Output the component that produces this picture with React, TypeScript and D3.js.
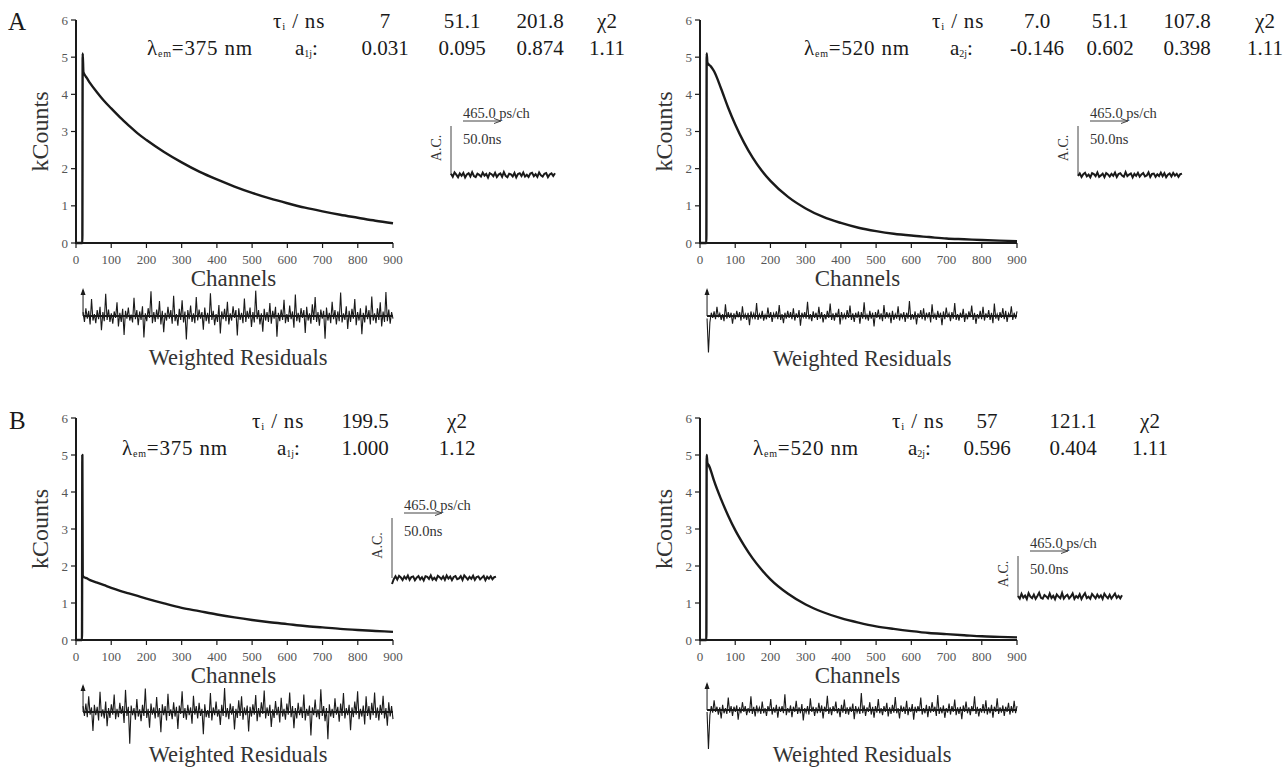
import React from 'react';
import * as d3 from 'd3';

// ---------- DATA ----------
const decayChannels = [0, 17, 18, 19, 21, 25, 30, 40, 60, 80, 100, 125, 150, 175, 200, 250, 300, 350, 400, 450, 500, 550, 600, 650, 700, 750, 800, 850, 900];
const decayA375 = [0, 0, 0, 5.1, 4.6, 4.52, 4.45, 4.3, 4.05, 3.82, 3.62, 3.38, 3.16, 2.95, 2.77, 2.45, 2.17, 1.92, 1.71, 1.52, 1.35, 1.2, 1.07, 0.95, 0.85, 0.76, 0.68, 0.6, 0.53];
const decayA520 = [0, 0, 0, 5.1, 4.85, 4.8, 4.76, 4.62, 4.15, 3.64, 3.19, 2.7, 2.29, 1.95, 1.67, 1.24, 0.93, 0.7, 0.54, 0.41, 0.32, 0.25, 0.2, 0.16, 0.12, 0.1, 0.08, 0.065, 0.05];
const decayB375 = [0, 0, 5.0, 1.75, 1.71, 1.69, 1.67, 1.62, 1.55, 1.48, 1.41, 1.33, 1.26, 1.19, 1.12, 0.99, 0.87, 0.78, 0.69, 0.61, 0.54, 0.48, 0.43, 0.38, 0.34, 0.3, 0.27, 0.245, 0.22];
const decayB520 = [0, 0, 0, 5.0, 4.78, 4.72, 4.6, 4.3, 3.8, 3.36, 2.97, 2.56, 2.2, 1.9, 1.64, 1.25, 0.96, 0.75, 0.59, 0.47, 0.37, 0.3, 0.24, 0.19, 0.16, 0.13, 0.1, 0.085, 0.07];

const xTickValues = [0, 100, 200, 300, 400, 500, 600, 700, 800, 900];
const yTickValues = [0, 1, 2, 3, 4, 5, 6];

const resA375 = [
  0.6, -0.9, 1.2, -0.4, 0.8, -1.3, 2.6, -0.7, 0.3, -1.1, 0.9, -0.5, 1.4, -2.2, 0.6, -0.8, 3.4, -0.6, 1.0, -0.9,
  0.4, -1.2, 0.7, -0.3, 2.1, -1.6, 0.5, -0.9, 1.1, -2.9, 0.8, -0.4, 1.3, -0.7, 0.2, -1.0, 2.8, -0.5, 0.9, -1.4,
  0.7, -0.6, 1.5, -3.3, 0.4, -0.8, 1.2, -0.3, 3.8, -1.1, 0.6, -0.9, 1.0, -0.5, 2.3, -1.3, 0.8, -2.5, 0.5, -0.7,
  1.4, -0.4, 0.9, -1.2, 3.1, -0.8, 0.3, -1.5, 1.1, -0.6, 2.4, -1.0, 0.7, -3.6, 0.9, -0.5, 1.6, -0.9, 0.4, -1.1,
  2.9, -0.7, 1.0, -0.4, 0.6, -2.1, 1.3, -0.8, 0.5, -1.2, 3.5, -0.6, 0.8, -1.4, 0.3, -0.9, 1.7, -2.7, 0.7, -0.5,
  1.1, -0.8, 2.2, -1.3, 0.4, -0.7, 1.5, -0.3, 0.9, -3.0, 1.2, -0.6, 0.5, -1.1, 2.7, -0.9, 0.8, -0.4, 1.3, -1.7,
  0.6, -1.0, 3.9, -0.5, 0.9, -1.3, 0.4, -2.4, 1.1, -0.7, 0.6, -0.9, 2.0, -1.2, 0.8, -0.4, 1.4, -3.2, 0.5, -0.8,
  1.0, -0.6, 2.5, -1.1, 0.3, -0.9, 1.6, -0.5, 0.7, -1.8, 3.3, -0.8, 0.5, -1.0, 1.2, -0.3, 0.9, -2.6, 1.4, -0.7,
  0.4, -1.2, 1.8, -0.6, 2.9, -0.9, 0.6, -1.5, 1.0, -0.4, 0.8, -3.5, 1.3, -0.7, 0.5, -1.1, 2.2, -0.5, 0.9, -1.3,
  0.7, -0.8, 3.6, -1.0, 0.4, -0.6, 1.5, -2.0, 0.8, -0.9, 1.1, -0.4, 2.6, -1.4, 0.6, -0.7, 1.2, -2.8, 0.5, -1.0,
  1.6, -0.5, 0.9, -1.3, 3.0, -0.7, 0.4, -1.1, 1.2, -0.6, 2.1, -1.6, 0.7, -0.9, 3.7, -0.8, 1.0, -1.2, 0.6, -0.4,
];
const resA520 = [
  -0.4, -5.6, -1.0, 0.5, -0.3, 0.7, -0.5, 1.4, -0.2, 0.4, -0.6, 0.3, -0.8, 1.8, -0.4, 0.6, -0.3, 0.5, -1.2, 0.4,
  -0.5, 0.8, -0.2, 0.6, -0.7, 1.5, -0.4, 0.3, -0.6, 0.5, -1.4, 0.7, -0.3, 0.4, -0.5, 2.0, -0.6, 0.3, -0.4, 0.8,
  -0.7, 0.2, -0.5, 1.3, -0.3, 0.6, -0.9, 0.4, -0.2, 0.7, -0.5, 1.7, -0.6, 0.3, -1.1, 0.5, -0.4, 0.8, -0.3, 0.6,
  -0.5, 1.2, -0.7, 0.4, -0.3, 0.9, -1.5, 0.5, -0.2, 0.6, -0.4, 2.2, -0.5, 0.3, -0.8, 0.7, -0.3, 0.5, -0.6, 1.4,
  -0.4, 0.6, -1.0, 0.3, -0.5, 0.8, -0.3, 1.9, -0.6, 0.4, -0.7, 0.5, -0.2, 1.1, -1.3, 0.6, -0.4, 0.3, -0.5, 0.9,
  -0.3, 1.6, -0.6, 0.4, -0.9, 0.5, -0.3, 0.7, -1.2, 0.6, -0.4, 2.1, -0.5, 0.2, -0.7, 0.8, -0.4, 0.5, -1.6, 0.6,
  -0.3, 1.0, -0.5, 0.4, -0.8, 1.7, -0.4, 0.6, -0.2, 0.5, -1.1, 0.8, -0.6, 0.3, -0.4, 1.5, -0.7, 0.4, -0.3, 0.6,
  -0.9, 0.5, -0.4, 2.3, -0.6, 0.3, -0.5, 0.7, -1.3, 0.4, -0.3, 0.9, -0.5, 1.2, -0.7, 0.5, -0.2, 0.6, -1.0, 1.8,
  -0.4, 0.3, -0.6, 0.8, -0.3, 0.5, -1.4, 0.7, -0.5, 1.3, -0.2, 0.4, -0.8, 0.6, -0.4, 2.0, -0.6, 0.3, -0.7, 0.5,
  -0.3, 1.1, -0.9, 0.4, -0.5, 0.7, -0.2, 1.6, -0.6, 0.5, -1.2, 0.3, -0.4, 0.8, -0.5, 1.4, -0.7, 0.4, -0.3, 0.9,
  -0.6, 0.5, -1.1, 1.9, -0.4, 0.3, -0.7, 0.6, -0.3, 1.2, -0.5, 0.8, -0.9, 0.4, -0.2, 1.5, -0.6, 0.5, -0.4, 0.7,
];
const resB375 = [
  0.9, -0.6, 1.3, -0.8, 2.4, -0.4, 0.7, -2.9, 1.1, -0.5, 0.8, -1.3, 3.1, -0.7, 0.4, -1.0, 1.6, -2.2, 0.6, -0.9,
  1.2, -0.4, 2.7, -1.1, 0.5, -0.8, 1.4, -0.3, 0.9, -1.7, 3.4, -0.6, 0.8, -4.9, 1.0, -0.5, 0.6, -1.2, 2.0, -0.7,
  0.4, -1.4, 1.1, -0.6, 3.6, -0.9, 0.5, -2.4, 1.3, -0.4, 0.7, -1.0, 2.3, -0.8, 0.6, -3.1, 1.2, -0.5, 0.9, -1.3,
  2.8, -0.6, 0.4, -1.1, 1.5, -0.7, 0.8, -2.6, 1.0, -0.3, 3.2, -0.9, 0.6, -1.2, 1.1, -0.5, 0.7, -1.8, 2.5, -0.4,
  0.9, -1.0, 1.4, -0.6, 0.5, -3.4, 1.2, -0.8, 0.3, -0.9, 2.9, -1.3, 0.7, -0.5, 1.6, -0.7, 0.4, -2.0, 1.1, -0.6,
  3.7, -0.8, 0.6, -1.1, 1.3, -0.4, 0.9, -2.7, 0.5, -0.9, 1.8, -0.6, 2.4, -1.2, 0.7, -0.5, 1.0, -3.0, 0.8, -0.7,
  1.2, -0.4, 2.6, -1.4, 0.6, -0.8, 1.5, -0.3, 3.3, -1.0, 0.7, -0.6, 1.1, -2.3, 0.4, -0.9, 1.7, -0.5, 0.8, -1.6,
  2.2, -0.7, 0.5, -1.2, 1.3, -0.4, 3.0, -0.8, 0.9, -2.5, 0.6, -1.0, 1.4, -0.5, 0.8, -0.9, 2.7, -1.3, 0.5, -0.6,
  1.0, -3.6, 0.7, -0.5, 1.9, -0.8, 0.4, -1.1, 3.5, -0.6, 0.9, -1.4, 0.6, -4.2, 1.2, -0.7, 0.5, -0.9, 2.1, -0.4,
  0.8, -1.5, 1.3, -0.6, 2.9, -1.0, 0.6, -0.5, 1.1, -2.8, 0.7, -0.8, 1.6, -0.4, 3.2, -1.1, 0.5, -0.7, 1.0, -1.9,
  2.4, -0.6, 0.9, -1.2, 1.4, -0.5, 3.0, -0.9, 0.7, -1.3, 1.1, -0.4, 2.5, -1.0, 0.6, -2.1, 1.5, -0.7, 0.9, -1.1,
];
const resB520 = [
  -0.3, -6.0, -0.8, 0.6, -0.4, 1.5, -0.3, 0.5, -0.7, 0.4, -1.3, 0.8, -0.5, 0.3, -0.6, 1.9, -0.4, 0.6, -0.9, 0.5,
  -0.3, 0.7, -1.5, 0.4, -0.5, 1.2, -0.3, 0.6, -0.8, 0.3, -0.4, 2.1, -0.6, 0.5, -1.0, 0.7, -0.3, 0.4, -0.6, 1.3,
  -0.5, 0.3, -0.9, 0.6, -0.2, 1.7, -0.7, 0.4, -0.4, 0.8, -1.2, 0.5, -0.3, 0.6, -0.5, 2.4, -0.8, 0.3, -0.4, 0.7,
  -1.1, 0.5, -0.3, 1.4, -0.6, 0.4, -0.5, 0.9, -1.6, 0.3, -0.4, 0.6, -0.7, 1.8, -0.3, 0.5, -0.9, 0.4, -0.5, 1.1,
  -0.4, 0.7, -1.3, 0.5, -0.3, 2.2, -0.6, 0.4, -0.8, 0.6, -0.2, 1.3, -0.5, 0.3, -1.1, 0.8, -0.4, 1.6, -0.6, 0.4,
  -0.7, 0.5, -0.3, 1.0, -1.4, 0.6, -0.4, 0.3, -0.6, 2.6, -0.5, 0.7, -0.9, 0.4, -0.3, 1.2, -0.7, 0.5, -1.2, 0.6,
  -0.4, 1.7, -0.5, 0.3, -0.8, 0.6, -0.3, 1.1, -1.0, 0.4, -0.6, 0.8, -0.4, 2.0, -0.5, 0.3, -1.3, 0.7, -0.3, 0.5,
  -0.6, 1.4, -0.8, 0.4, -0.3, 0.9, -1.5, 0.5, -0.4, 0.6, -0.2, 1.9, -0.7, 0.3, -0.5, 0.8, -1.1, 0.6, -0.4, 1.2,
  -0.3, 0.5, -0.9, 2.3, -0.6, 0.4, -0.5, 0.7, -1.2, 0.3, -0.4, 1.0, -0.7, 0.6, -0.3, 1.6, -0.8, 0.4, -0.6, 0.5,
  -1.4, 0.7, -0.3, 1.3, -0.5, 0.4, -0.8, 0.6, -0.2, 2.1, -0.6, 0.5, -1.0, 0.3, -0.4, 0.9, -0.5, 1.5, -0.7, 0.4,
  -0.5, 0.8, -1.2, 0.5, -0.3, 1.8, -0.6, 0.4, -0.4, 0.7, -0.9, 0.5, -0.3, 1.1, -0.7, 0.6, -0.4, 1.4, -0.5, 0.6,
];

const acA375 = [0.6, -0.9, 1.3, 0.2, -1.1, 0.8, -0.4, 1.0, -1.2, 0.3, 0.9, -0.7, 1.4, -0.5, -1.0, 0.7, 0.1, -0.8, 1.2, -0.3, 0.5, -1.3, 0.9, 0.4, -0.6, 1.1, -1.0, 0.2, 0.8, -0.9, 1.5, -0.4, -1.1, 0.6, 0.3, -0.7, 1.0, -1.2, 0.5, 0.9, -0.5, 1.2, -0.8, 0.1, -1.0, 0.7, 1.1, -0.6, 0.4, -0.9, 1.3, -0.2, -0.8, 0.6, 1.0, -1.1, 0.3, 0.8, -0.5, 0.9];
const acA520 = [-0.5, 0.8, -1.0, 0.4, 1.1, -0.7, 0.2, -1.2, 0.9, 0.5, -0.6, 1.3, -0.9, -0.2, 0.7, -1.1, 1.0, 0.3, -0.8, 0.6, -0.4, 1.2, -1.0, 0.5, 0.9, -0.3, -0.9, 1.4, -0.6, 0.2, 0.8, -1.2, 0.6, -0.4, 1.1, -0.8, 0.3, 1.0, -0.7, -0.2, 1.3, -1.0, 0.5, 0.7, -0.9, 0.4, -0.5, 1.2, -0.6, 0.9, -1.1, 0.2, 0.8, -0.7, 1.0, -0.3, 0.6, -0.9, 0.4, 0.7];
const acB375 = [-3.0, -0.6, 0.9, -0.8, 1.1, 0.3, -1.0, 0.7, -0.4, 1.2, -0.9, 0.5, 0.8, -1.1, 0.2, 1.0, -0.7, 0.4, -1.2, 0.9, 0.6, -0.5, 1.3, -0.8, 0.1, -1.0, 1.1, 0.4, -0.6, 0.8, -0.9, 1.2, -0.3, 0.7, -1.1, 0.5, 1.0, -0.6, -0.2, 0.9, -1.0, 1.3, 0.3, -0.8, 0.6, -0.4, 1.1, -0.9, 0.5, 0.8, -0.7, 0.2, 1.0, -1.1, 0.6, -0.3, 0.9, -0.6, 0.4, 0.7];
const acB520 = [0.4, -0.8, 1.6, -0.3, 0.7, -1.0, 1.9, 0.2, -0.6, 1.2, -0.9, 0.5, 2.1, -0.4, -0.8, 1.0, 0.3, -0.7, 1.7, -0.5, 0.6, -1.1, 1.3, 0.2, -0.6, 2.0, -0.8, 0.4, 1.1, -0.7, 0.3, 1.8, -0.9, 0.5, -0.4, 1.4, -1.0, 0.6, 1.9, -0.5, 0.2, -0.9, 1.5, 0.4, -0.7, 1.2, -0.3, 0.8, -1.0, 1.6, 0.3, -0.6, 1.1, -0.8, 0.5, 1.7, -0.4, 0.6, -0.7, 0.9];

const tauA375 = ['7', '51.1', '201.8'];
const ampA375 = ['0.031', '0.095', '0.874'];
const tauA520 = ['7.0', '51.1', '107.8'];
const ampA520 = ['-0.146', '0.602', '0.398'];
const tauB375 = ['199.5'];
const ampB375 = ['1.000'];
const tauB520 = ['57', '121.1'];
const ampB520 = ['0.596', '0.404'];
const chiValues = ['1.11', '1.11', '1.12', '1.11'];
const wavelengths = ['375', '520', '375', '520'];
const ampSubs = ['1j', '2j', '1j', '2j'];

// ---------- LAYOUT ----------
const FONT = 'Liberation Serif, DejaVu Serif, serif';
const INK = '#1a1a1a';
const GREY = '#555';

type Layout = {
  axisX: number; y0: number; yTop: number; width: number;
  resBase: number; chanY: number; wrY: number;
  row1: number; row2: number; lambdaX: number; tauX: number; aX: number; cols: number[];
  insetX: number; insetTextY: number; insetTraceY: number;
};

const layouts: Layout[] = [
  { axisX: 76, y0: 243, yTop: 20, width: 317, resBase: 316, chanY: 278, wrY: 357, row1: 21, row2: 48, lambdaX: 147, tauX: 273, aX: 295, cols: [385, 462, 540, 607], insetX: 451, insetTextY: 113, insetTraceY: 175 },
  { axisX: 700, y0: 243, yTop: 20, width: 317, resBase: 316, chanY: 278, wrY: 358, row1: 21, row2: 48, lambdaX: 804, tauX: 932, aX: 950, cols: [1037, 1110, 1187, 1265], insetX: 1078, insetTextY: 113, insetTraceY: 175 },
  { axisX: 76, y0: 640, yTop: 418, width: 317, resBase: 712, chanY: 675, wrY: 754, row1: 421, row2: 448, lambdaX: 122, tauX: 252, aX: 277, cols: [365, 457], insetX: 392, insetTextY: 505, insetTraceY: 578 },
  { axisX: 700, y0: 640, yTop: 418, width: 317, resBase: 710, chanY: 675, wrY: 754, row1: 421, row2: 448, lambdaX: 753, tauX: 892, aX: 908, cols: [987, 1073, 1150], insetX: 1018, insetTextY: 543, insetTraceY: 597 },
];

const decays = [decayA375, decayA520, decayB375, decayB520];
const residuals = [resA375, resA520, resB375, resB520];
const acs = [acA375, acA520, acB375, acB520];
const taus = [tauA375, tauA520, tauB375, tauB520];
const amps = [ampA375, ampA520, ampB375, ampB520];

const HS = 21; // header font size

function Panel({ idx }: { idx: number }) {
  const L = layouts[idx];
  const x = d3.scaleLinear().domain([0, 900]).range([L.axisX, L.axisX + L.width]);
  const y = d3.scaleLinear().domain([0, 6]).range([L.y0, L.yTop]);
  const decay = decays[idx];
  const decayPath = d3.line<number>()
    .x((_, i) => x(decayChannels[i]))
    .y((d) => y(d))
    .curve(d3.curveMonotoneX)(decay) || '';

  const res = residuals[idx];
  const xr = d3.scaleLinear().domain([0, res.length - 1]).range([x(20), x(900)]);
  const yr = d3.scaleLinear().domain([-1, 1]).range([L.resBase + 6.5, L.resBase - 6.5]);
  const resPath = d3.line<number>().x((_, i) => xr(i)).y((d) => yr(d))(res) || '';

  const ac = acs[idx];
  const xa = d3.scaleLinear().domain([0, ac.length - 1]).range([L.insetX, L.insetX + 104]);
  const ya = d3.scaleLinear().domain([-1, 1]).range([L.insetTraceY + 2, L.insetTraceY - 2]);
  const acPath = d3.line<number>().x((_, i) => xa(i)).y((d) => ya(d))(ac) || '';

  const tauList = taus[idx];
  const ampList = amps[idx];
  const chiCol = L.cols[L.cols.length - 1];
  const arrowX = x(20);
  const ix = L.insetX;
  const ity = L.insetTextY;
  const T = { fontFamily: FONT };

  return (
    <g style={T}>
      {/* header */}
      <text x={L.tauX} y={L.row1} fontSize={HS} fill={INK} dominantBaseline="central" letterSpacing={0.8} style={T}>
        τ<tspan fontSize={11} dy={5}>i</tspan><tspan dy={-5}> / ns</tspan>
      </text>
      {tauList.map((t, i) => (
        <text key={'t' + i} x={L.cols[i]} y={L.row1} fontSize={HS} fill={INK} textAnchor="middle" dominantBaseline="central" style={T}>{t}</text>
      ))}
      <text x={chiCol} y={L.row1} fontSize={HS} fill={INK} textAnchor="middle" dominantBaseline="central" style={T}>χ2</text>
      <text x={L.lambdaX} y={L.row2} fontSize={HS} fill={INK} dominantBaseline="central" letterSpacing={0.8} style={T}>
        λ<tspan fontSize={10} dy={5}>em</tspan><tspan dy={-5}>={wavelengths[idx]} nm</tspan>
      </text>
      <text x={L.aX} y={L.row2} fontSize={HS} fill={INK} dominantBaseline="central" style={T}>
        a<tspan fontSize={10} dy={5}>{ampSubs[idx]}</tspan><tspan dy={-5}>:</tspan>
      </text>
      {ampList.map((a, i) => (
        <text key={'a' + i} x={L.cols[i]} y={L.row2} fontSize={HS} fill={INK} textAnchor="middle" dominantBaseline="central" style={T}>{a}</text>
      ))}
      <text x={chiCol} y={L.row2} fontSize={HS} fill={INK} textAnchor="middle" dominantBaseline="central" style={T}>{chiValues[idx]}</text>

      {/* axes */}
      <line x1={L.axisX} y1={y(6)} x2={L.axisX} y2={y(0)} stroke={INK} strokeWidth={2} />
      <line x1={L.axisX - 1} y1={y(0)} x2={x(900)} y2={y(0)} stroke={INK} strokeWidth={2} />
      {yTickValues.map((t) => (
        <g key={'yt' + t}>
          <line x1={L.axisX - 5} x2={L.axisX} y1={y(t)} y2={y(t)} stroke={INK} strokeWidth={1.2} />
          <text x={L.axisX - 8} y={y(t)} fontSize={13} fill={GREY} textAnchor="end" dominantBaseline="central" style={T}>{t}</text>
        </g>
      ))}
      {xTickValues.map((t) => (
        <g key={'xt' + t}>
          <line x1={x(t)} x2={x(t)} y1={y(0)} y2={y(0) + 5} stroke={INK} strokeWidth={1.2} />
          <text x={x(t)} y={y(0) + 16} fontSize={13} fill={GREY} textAnchor="middle" dominantBaseline="central" style={T}>{t}</text>
        </g>
      ))}
      <text transform={`translate(${L.axisX - 36},${(y(0) + y(6)) / 2}) rotate(-90)`} fontSize={24} fill="#333" textAnchor="middle" dominantBaseline="central" style={T}>kCounts</text>
      <text x={x(450) - 1} y={L.chanY} fontSize={23} fill="#333" textAnchor="middle" dominantBaseline="central" style={T}>Channels</text>

      {/* decay */}
      <path d={decayPath} fill="none" stroke={INK} strokeWidth={2.4} strokeLinejoin="round" />

      {/* residuals */}
      <line x1={xr(0)} x2={xr(res.length - 1)} y1={L.resBase} y2={L.resBase} stroke={INK} strokeWidth={2} />
      <path d={resPath} fill="none" stroke={INK} strokeWidth={1.1} />
      <line x1={arrowX} x2={arrowX} y1={L.resBase} y2={L.resBase - 26} stroke={INK} strokeWidth={1} />
      <path d={`M${arrowX - 2.5},${L.resBase - 21} L${arrowX},${L.resBase - 28} L${arrowX + 2.5},${L.resBase - 21} Z`} fill={INK} />
      <text x={x(460)} y={L.wrY} fontSize={22.5} fill="#333" textAnchor="middle" dominantBaseline="central" style={T}>Weighted Residuals</text>

      {/* A.C. inset */}
      <line x1={ix} x2={ix} y1={ity + 13} y2={L.insetTraceY} stroke="#444" strokeWidth={1} />
      <text x={ix + 12} y={ity} fontSize={14.5} fill="#333" dominantBaseline="central" style={T}>465.0 ps/ch</text>
      <line x1={ix + 12} x2={ix + 49} y1={ity + 8} y2={ity + 8} stroke="#444" strokeWidth={1} />
      <path d={`M${ix + 43},${ity + 5.5} L${ix + 50},${ity + 8} L${ix + 43},${ity + 10.5}`} fill="none" stroke="#444" strokeWidth={1} />
      <text x={ix + 12} y={ity + 26} fontSize={14.5} fill="#333" dominantBaseline="central" style={T}>50.0ns</text>
      <text transform={`translate(${ix - 15},${(ity + L.insetTraceY) / 2 + 4}) rotate(-90)`} fontSize={14} fill="#333" textAnchor="middle" dominantBaseline="central" style={T}>A.C.</text>
      <path d={acPath} fill="none" stroke={INK} strokeWidth={2} />
    </g>
  );
}

export default function App() {
  return (
    <svg width={1286} height={767} viewBox="0 0 1286 767" fontFamily={FONT} style={{ position: 'absolute', left: 0, top: 0, background: '#fff' }}>
      <rect x={0} y={0} width={1286} height={767} fill="#fff" />
      <text x={8} y={21} fontSize={25} fill={INK} dominantBaseline="central" style={{ fontFamily: FONT }}>A</text>
      <text x={9} y={420} fontSize={25} fill={INK} dominantBaseline="central" style={{ fontFamily: FONT }}>B</text>
      {layouts.map((_, i) => (
        <Panel key={i} idx={i} />
      ))}
    </svg>
  );
}
